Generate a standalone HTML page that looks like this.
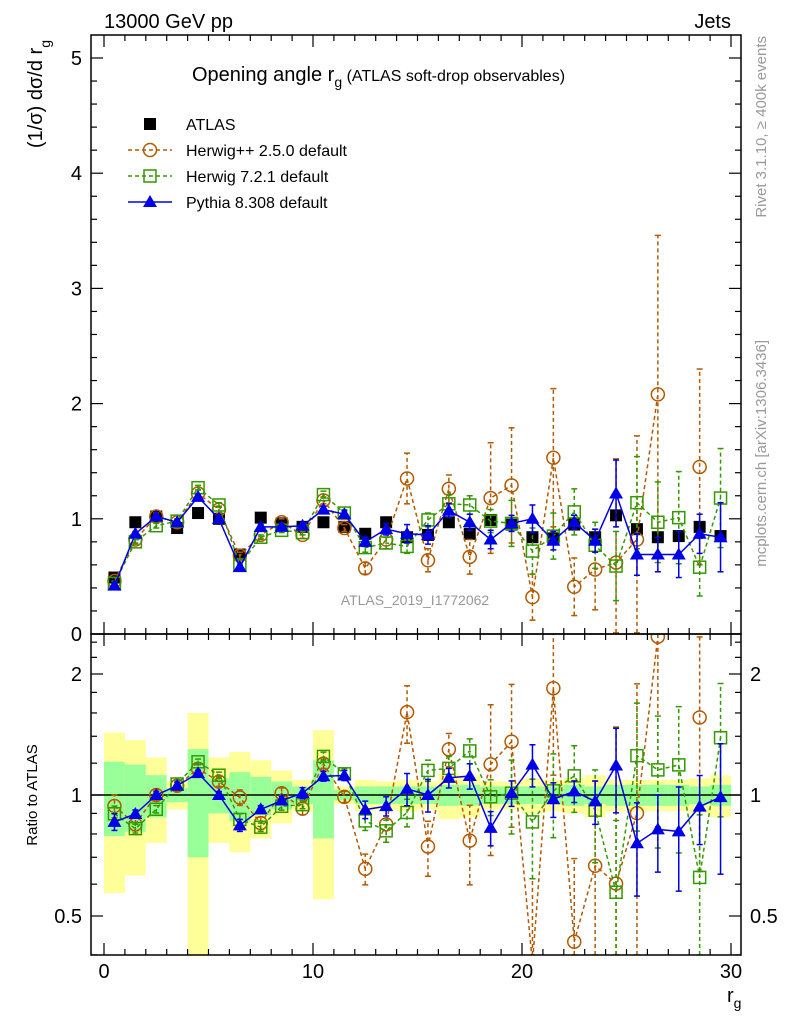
<!DOCTYPE html>
<html><head><meta charset="utf-8"><style>
html,body{margin:0;padding:0;background:#fff;width:786px;height:1024px;overflow:hidden}
svg{display:block;font-family:"Liberation Sans",sans-serif}
</style></head><body>
<svg id="chart" width="786" height="1024" viewBox="0 0 786 1024" xmlns="http://www.w3.org/2000/svg">
<text x="104" y="28" font-size="20">13000 GeV pp</text>
<text x="731" y="28" font-size="20" text-anchor="end">Jets</text>
<text x="192" y="81" font-size="20">Opening angle r<tspan font-size="14" dy="6">g</tspan><tspan font-size="16" dy="-6"> (ATLAS soft-drop observables)</tspan></text>
<text transform="translate(42,40) rotate(-90)" font-size="20" text-anchor="end">(1/σ) dσ/d r<tspan font-size="14" dy="8">g</tspan></text>
<text transform="translate(37,795) rotate(-90)" font-size="15" text-anchor="middle">Ratio to ATLAS</text>
<text x="727" y="1002" font-size="20">r<tspan font-size="14" dy="6">g</tspan></text>
<text x="415" y="605" font-size="14" fill="#999" text-anchor="middle">ATLAS_2019_I1772062</text>
<text transform="translate(766,36) rotate(-90)" font-size="15" fill="#999" text-anchor="end">Rivet 3.1.10, ≥ 400k events</text>
<text transform="translate(766,340) rotate(-90)" font-size="15" fill="#999" text-anchor="end">mcplots.cern.ch [arXiv:1306.3436]</text>
</svg>
<script>
const bins = [0,1,2,3,4,5,6,7,8,9,10,11,12,13,14,15,16,17,18,19,20,21,22,23,24,25,26,27,28,29];
const atlas = [0.49,0.97,1.02,0.92,1.05,1.00,0.69,1.01,0.96,0.93,0.97,0.93,0.87,0.97,0.84,0.86,0.97,0.87,0.99,0.95,0.84,0.83,0.95,0.84,1.03,0.91,0.84,0.85,0.93,0.85];
const pythia = [0.42,0.87,1.02,0.97,1.19,1.00,0.58,0.93,0.93,0.94,1.08,1.04,0.80,0.91,0.87,0.86,1.07,0.97,0.82,0.96,1.00,0.81,0.97,0.81,1.22,0.69,0.69,0.69,0.87,0.84];
const pythiaErr = [0.02,0.02,0.02,0.02,0.02,0.02,0.02,0.02,0.02,0.03,0.03,0.03,0.04,0.05,0.08,0.08,0.06,0.07,0.08,0.07,0.12,0.08,0.06,0.1,0.29,0.18,0.15,0.2,0.17,0.3];
const herwig7 = [0.44,0.80,0.94,0.98,1.27,1.12,0.60,0.84,0.90,0.88,1.21,1.05,0.75,0.79,0.76,0.99,1.13,1.12,0.98,0.96,0.72,0.85,1.06,0.77,0.59,1.14,0.97,1.01,0.58,1.18];
const herwig7Err = [0.02,0.02,0.02,0.02,0.02,0.02,0.02,0.02,0.02,0.02,0.03,0.03,0.04,0.05,0.06,0.06,0.08,0.08,0.1,0.2,0.2,0.2,0.2,0.2,0.3,0.4,0.35,0.4,0.25,0.43];
const herwigpp = [0.46,0.82,1.02,0.97,1.22,1.08,0.68,0.86,0.97,0.86,1.16,0.92,0.57,0.82,1.35,0.64,1.26,0.67,1.18,1.29,0.32,1.53,0.41,0.56,0.62,0.82,2.08,null,1.45,null];
const herwigppErr = [0.03,0.03,0.03,0.03,0.03,0.03,0.03,0.03,0.03,0.03,0.03,0.03,0.05,0.08,0.22,0.1,0.12,0.15,0.48,0.5,0.2,0.6,0.25,0.35,0.9,0.9,1.38,0,0.85,0];
const bandInner = [0.21,0.19,0.12,0.04,0.3,0.1,0.14,0.11,0.08,0.05,0.22,0.03,0.05,0.05,0.05,0.05,0.06,0.06,0.05,0.05,0.05,0.05,0.06,0.05,0.06,0.06,0.06,0.06,0.05,0.06];
const bandOuter = [0.43,0.37,0.24,0.08,0.6,0.24,0.28,0.22,0.15,0.09,0.45,0.05,0.09,0.08,0.09,0.08,0.13,0.12,0.08,0.08,0.1,0.09,0.1,0.12,0.09,0.09,0.09,0.09,0.1,0.12];
const mainTicks = [0,1,2,3,4,5];
const ratioTicks = [0.5,1,2];
const xTicks = [0,10,20,30];

const NS="http://www.w3.org/2000/svg";
const svg=document.getElementById('chart');
function el(tag,attrs,parent){const e=document.createElementNS(NS,tag);for(const k in attrs)e.setAttribute(k,attrs[k]);(parent||svg).appendChild(e);return e;}
const X=v=>104+v*20.9;
const Ym=v=>634-v*115.2;
const Yr=v=>795-Math.log2(v)*121;
const L=91,R=741,T=35,MB=634,RB=955;
const cl=(y,a,b)=>Math.min(Math.max(y,a),b);

const defs=el('defs',{});
const c1=el('clipPath',{id:'cm'},defs);el('rect',{x:L,y:T,width:R-L,height:MB-T},c1);
const c2=el('clipPath',{id:'cr'},defs);el('rect',{x:L,y:MB,width:R-L,height:RB-MB},c2);

const gb=el('g',{'clip-path':'url(#cr)'});

bins.forEach((b,i)=>{
  const oy1=cl(Yr(1+bandOuter[i]),MB,RB),oy2=cl(Yr(Math.max(1-bandOuter[i],0.3)),MB,RB);
  const o=el('rect',{x:X(b),width:20.9,y:oy1,height:oy2-oy1,fill:'#ffff99'},gb);
  
  const n=el('rect',{x:X(b),width:20.9,y:Yr(1+bandInner[i]),height:Yr(1-bandInner[i])-Yr(1+bandInner[i]),fill:'#99ff99'},gb);
  
});
el('line',{x1:L,x2:R,y1:Yr(1),y2:Yr(1),stroke:'#000','stroke-width':1.5});

function marker(g,kind,x,y,color){
  let m;
  if(kind==='sq') m=el('rect',{x:x-6,y:y-6,width:12,height:12,fill:'#000'},g);
  else if(kind==='osq') m=el('rect',{x:x-6,y:y-6,width:12,height:12,fill:'none',stroke:color,'stroke-width':1.5},g);
  else if(kind==='circ') m=el('circle',{cx:x,cy:y,r:6.5,fill:'none',stroke:color,'stroke-width':1.5},g);
  else m=el('path',{d:`M${x},${y-7}L${x+7},${y+5}L${x-7},${y+5}Z`,fill:color},g);
  return m;
}
function series(name,vals,errs,kind,color,dash,clip,Y,ratio,top,bot){
  const g=el('g',{'clip-path':`url(#${clip})`});
  
  const pts=[];
  bins.forEach((b,i)=>{
    let v=vals[i];if(v==null)return;
    let e=errs?errs[i]:0;
    if(ratio){v=v/atlas[i];e=e/atlas[i];}
    pts.push([X(b+0.5),Y(v),v,e]);
  });
  if(kind!=='sq'){
    let d='';let prev=null;
    bins.forEach((b,i)=>{const v=vals[i];if(v==null){prev=null;return;}const vv=ratio?v/atlas[i]:v;d+=(prev===null?'M':'L')+X(b+0.5)+','+Y(vv);prev=i;});
    el('path',{d,fill:'none',stroke:color,'stroke-width':1.5,'stroke-dasharray':dash||'none'},g);
  }
  pts.forEach(p=>{
    if(p[3]>0){
      const lo=cl(Y(Math.max(p[2]-p[3],0.01)),top,bot),hi=cl(Y(p[2]+p[3]),top,bot);
      el('line',{x1:p[0],x2:p[0],y1:lo,y2:hi,stroke:color,'stroke-width':1.5,'stroke-dasharray':dash||'none'},g);
      el('line',{x1:p[0]-3,x2:p[0]+3,y1:lo,y2:lo,stroke:color,'stroke-width':1.5},g);
      el('line',{x1:p[0]-3,x2:p[0]+3,y1:hi,y2:hi,stroke:color,'stroke-width':1.5},g);
    }
    const m=marker(g,kind,p[0],p[1],color);
    
    
  });
}
series('atlas-data',atlas,null,'sq','#000',null,'cm',Ym,false,T,MB);
series('herwigpp-series',herwigpp,herwigppErr,'circ','#b35900','4,3','cm',Ym,false,T,MB);
series('herwig7-series',herwig7,herwig7Err,'osq','#339900','4,3','cm',Ym,false,T,MB);
series('pythia-series',pythia,pythiaErr,'tri','#0000e6',null,'cm',Ym,false,T,MB);
series('herwigpp-ratio',herwigpp,herwigppErr,'circ','#b35900','4,3','cr',Yr,true,MB,RB);
series('herwig7-ratio',herwig7,herwig7Err,'osq','#339900','4,3','cr',Yr,true,MB,RB);
series('pythia-ratio',pythia,pythiaErr,'tri','#0000e6',null,'cr',Yr,true,MB,RB);

const f1=el('rect',{x:L,y:T,width:R-L,height:MB-T,fill:'none',stroke:'#000','stroke-width':1.5});

const f2=el('rect',{x:L,y:MB,width:R-L,height:RB-MB,fill:'none',stroke:'#000','stroke-width':1.5});


for(let v=0;v<=30;v++){
  const len=v%10===0?12:6;
  [MB,RB].forEach(y=>{el('line',{x1:X(v),x2:X(v),y1:y,y2:y-len,stroke:'#000','stroke-width':1.2});});
  [T,MB].forEach(y=>{el('line',{x1:X(v),x2:X(v),y1:y,y2:y+len,stroke:'#000','stroke-width':1.2});});
}
xTicks.forEach(v=>{const t=el('text',{x:X(v),y:978,'font-size':20,'text-anchor':'middle'});t.textContent=v;
  });
for(let k=0;k<=26;k++){const v=k*0.2;const y=Ym(v);if(y<T)continue;const len=k%5===0?12:6;
  el('line',{x1:L,x2:L+len,y1:y,y2:y,stroke:'#000','stroke-width':1.2});
  el('line',{x1:R,x2:R-len,y1:y,y2:y,stroke:'#000','stroke-width':1.2});}
mainTicks.forEach(v=>{const t=el('text',{x:82,y:Ym(v)+7,'font-size':20,'text-anchor':'end'});t.textContent=v;
  });
[0.4,0.5,0.6,0.7,0.8,0.9,1,1.2,1.4,1.6,1.8,2,2.2,2.4].forEach(v=>{const y=Yr(v);if(y<MB||y>RB)return;
  const len=ratioTicks.includes(v)?12:6;
  el('line',{x1:L,x2:L+len,y1:y,y2:y,stroke:'#000','stroke-width':1.2});
  el('line',{x1:R,x2:R-len,y1:y,y2:y,stroke:'#000','stroke-width':1.2});});
ratioTicks.forEach(v=>{
  const t=el('text',{x:82,y:Yr(v)+7,'font-size':20,'text-anchor':'end'});t.textContent=v;
  
  const t2=el('text',{x:750,y:Yr(v)+7,'font-size':20,'text-anchor':'start'});t2.textContent=v;
  });

const lg=el('g',{});
const leg=[['ATLAS','sq','#000',null],['Herwig++ 2.5.0 default','circ','#b35900','4,3'],['Herwig 7.2.1 default','osq','#339900','4,3'],['Pythia 8.308 default','tri','#0000e6',null]];
leg.forEach((l,i)=>{const y=124+i*26;
  const g=el('g',{},lg);
  if(l[1]!=='sq')el('line',{x1:128,x2:172,y1:y,y2:y,stroke:l[2],'stroke-width':1.5,'stroke-dasharray':l[3]||'none'},g);
  marker(g,l[1],150,y,l[2]);
  const t=el('text',{x:186,y:y+6,'font-size':16},g);t.textContent=l[0];});
</script>
</body></html>
